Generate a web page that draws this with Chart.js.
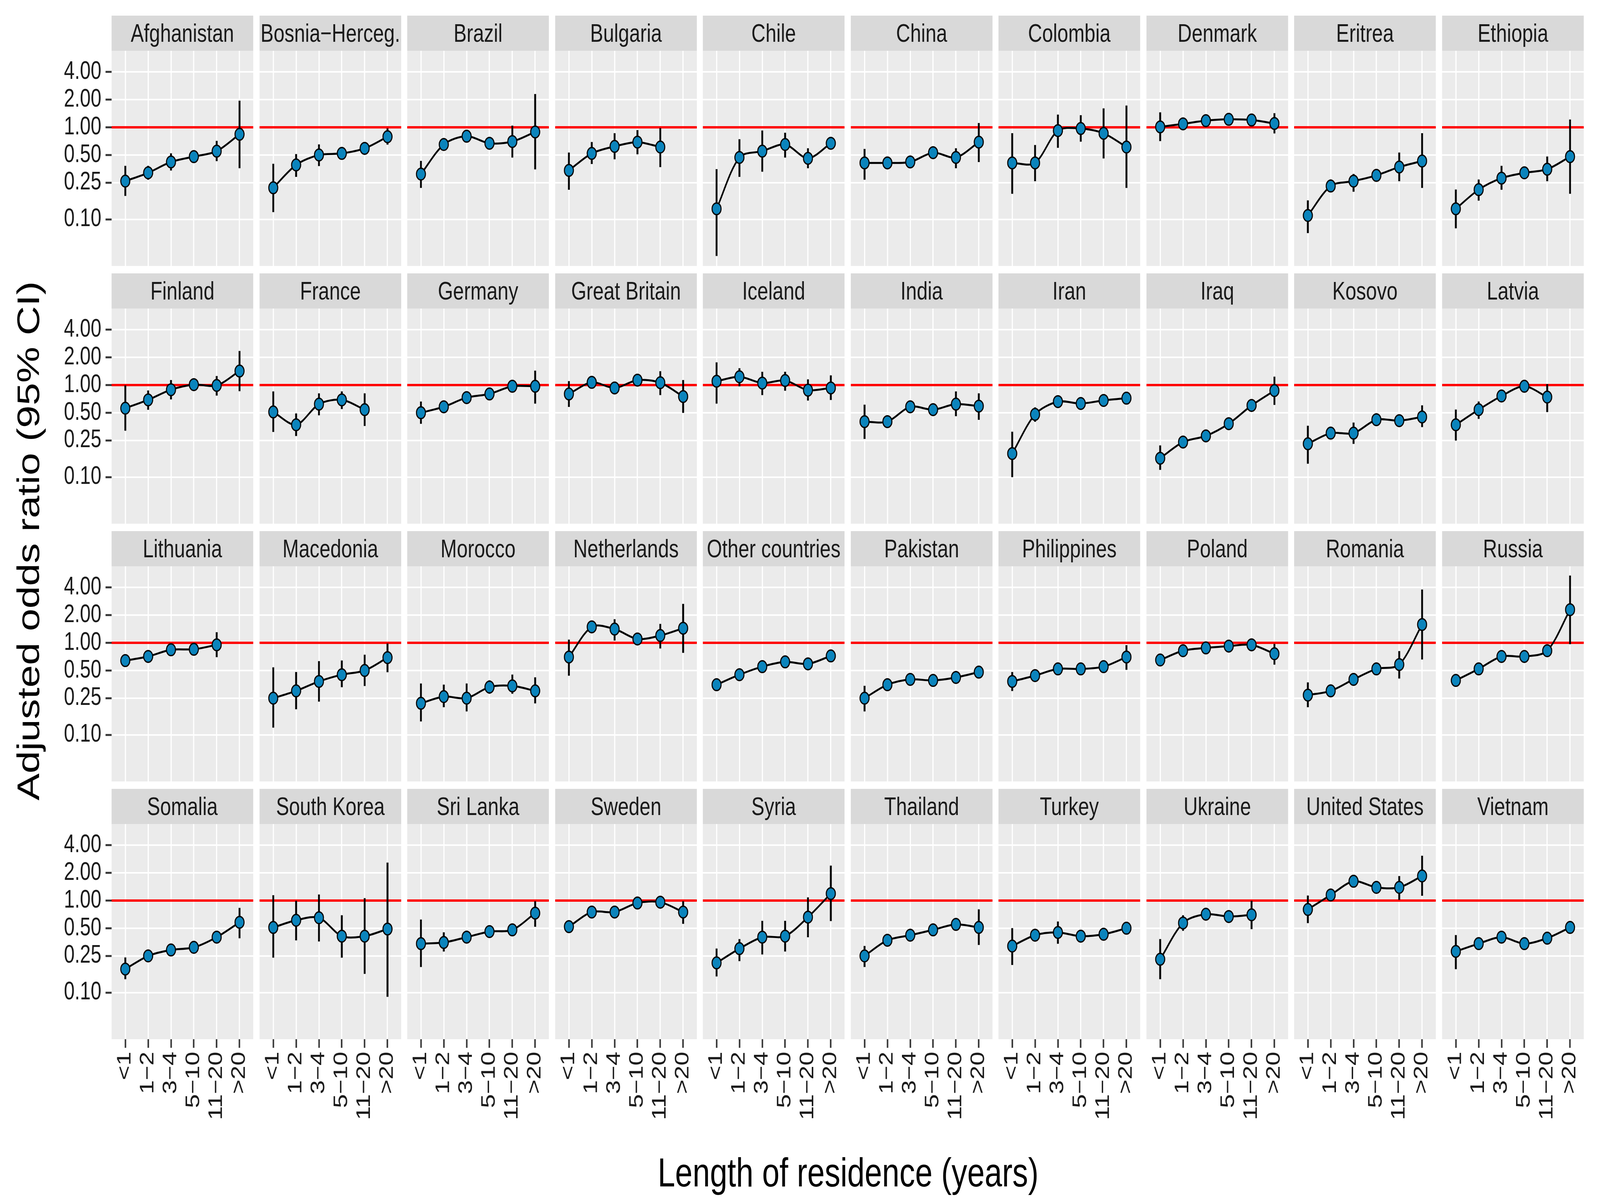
<!DOCTYPE html>
<html>
<head>
<meta charset="utf-8">
<script src="https://cdn.jsdelivr.net/npm/chart.js@4.4.1/dist/chart.umd.min.js"></script>
<style>
html,body{margin:0;padding:0;background:#fff;overflow:hidden;font-family:"Liberation Sans",Arial,Helvetica,sans-serif;}
#page{position:absolute;left:0;top:0;width:5320px;height:3083px;background:#fff;transform-origin:0 0;}
.strip{position:absolute;background:#D9D9D9;color:#1A1A1A;font-size:65px;text-align:center;line-height:90px;height:90px;white-space:nowrap;overflow:visible;}
canvas{position:absolute;}
.title{position:absolute;font-size:104px;line-height:104px;color:#000;white-space:nowrap;text-align:center;}
</style>
</head>
<body>
<div id="page"></div>
<script>
// ---------------- data ----------------
const categories = ["<1", "1\u22122", "3\u22124", "5\u221210", "11\u221220", ">20"];
const yTicks = [0.10, 0.25, 0.50, 1.00, 2.00, 4.00];
const refValue = 1.0;
const xTitle = "Length of residence (years)";
const yTitle = "Adjusted odds ratio (95% CI)";

const countries = [
  "Afghanistan","Bosnia\u2212Herceg.","Brazil","Bulgaria","Chile","China","Colombia","Denmark","Eritrea","Ethiopia",
  "Finland","France","Germany","Great Britain","Iceland","India","Iran","Iraq","Kosovo","Latvia",
  "Lithuania","Macedonia","Morocco","Netherlands","Other countries","Pakistan","Philippines","Poland","Romania","Russia",
  "Somalia","South Korea","Sri Lanka","Sweden","Syria","Thailand","Turkey","Ukraine","United States","Vietnam"
];

const oddsRatio = [
  [0.26,0.32,0.42,0.48,0.55,0.84],
  [0.22,0.39,0.50,0.52,0.59,0.79],
  [0.31,0.65,0.80,0.67,0.70,0.89],
  [0.34,0.52,0.62,0.69,0.61,null],
  [0.13,0.47,0.55,0.65,0.46,0.67],
  [0.41,0.41,0.42,0.53,0.47,0.69],
  [0.41,0.41,0.92,0.97,0.86,0.61],
  [1.01,1.09,1.18,1.22,1.20,1.10],
  [0.11,0.23,0.26,0.30,0.37,0.43],
  [0.13,0.21,0.28,0.32,0.35,0.48],
  [0.56,0.69,0.89,1.01,0.99,1.42],
  [0.51,0.37,0.62,0.69,0.54,null],
  [0.50,0.58,0.73,0.80,0.97,0.97],
  [0.80,1.07,0.93,1.13,1.06,0.75],
  [1.10,1.23,1.05,1.12,0.88,0.93],
  [0.40,0.40,0.58,0.54,0.62,0.59],
  [0.18,0.48,0.66,0.63,0.68,0.72],
  [0.16,0.24,0.28,0.38,0.60,0.87],
  [0.23,0.30,0.30,0.42,0.41,0.45],
  [0.37,0.54,0.76,0.97,0.74,null],
  [0.64,0.71,0.84,0.85,0.95,null],
  [0.25,0.30,0.38,0.45,0.50,0.69],
  [0.22,0.26,0.25,0.33,0.34,0.30],
  [0.70,1.49,1.41,1.10,1.20,1.44],
  [0.35,0.45,0.55,0.62,0.59,0.72],
  [0.25,0.35,0.40,0.39,0.42,0.48],
  [0.38,0.44,0.52,0.52,0.55,0.70],
  [0.65,0.82,0.88,0.92,0.95,0.76],
  [0.27,0.30,0.40,0.52,0.58,1.58],
  [0.39,0.52,0.71,0.71,0.82,2.29],
  [0.18,0.25,0.29,0.31,0.40,0.58],
  [0.51,0.61,0.65,0.41,0.41,0.49],
  [0.34,0.35,0.40,0.46,0.48,0.73],
  [0.52,0.75,0.75,0.94,0.96,0.75],
  [0.21,0.30,0.40,0.41,0.66,1.19],
  [0.25,0.37,0.42,0.48,0.55,0.51],
  [0.32,0.42,0.45,0.41,0.43,0.50],
  [0.23,0.57,0.71,0.67,0.70,null],
  [0.80,1.15,1.62,1.39,1.39,1.85],
  [0.28,0.34,0.40,0.34,0.39,0.51]
];

const ciLow = [
  [0.18,0.27,0.34,0.43,0.43,0.36],
  [0.12,0.29,0.38,0.46,0.53,0.65],
  [0.22,0.56,0.70,0.58,0.47,0.35],
  [0.21,0.40,0.45,0.51,0.37,null],
  [0.04,0.29,0.33,0.47,0.36,0.60],
  [0.27,0.36,0.37,0.47,0.36,0.42],
  [0.19,0.26,0.60,0.70,0.46,0.22],
  [0.71,0.95,1.05,1.10,1.08,0.86],
  [0.071,0.20,0.20,0.26,0.26,0.22],
  [0.08,0.16,0.21,0.28,0.26,0.19],
  [0.32,0.54,0.70,0.90,0.77,0.86],
  [0.31,0.28,0.47,0.55,0.36,null],
  [0.38,0.50,0.65,0.72,0.88,0.63],
  [0.58,0.95,0.83,1.00,0.78,0.50],
  [0.63,0.97,0.78,0.87,0.68,0.69],
  [0.26,0.35,0.50,0.47,0.46,0.42],
  [0.10,0.40,0.58,0.56,0.60,0.62],
  [0.12,0.21,0.25,0.34,0.53,0.61],
  [0.14,0.26,0.23,0.37,0.36,0.35],
  [0.25,0.43,0.66,0.85,0.51,null],
  [0.57,0.63,0.75,0.76,0.70,null],
  [0.12,0.19,0.23,0.33,0.34,0.48],
  [0.14,0.20,0.18,0.28,0.28,0.22],
  [0.44,1.30,1.06,0.95,0.87,0.78],
  [0.33,0.42,0.52,0.59,0.55,0.68],
  [0.18,0.31,0.36,0.35,0.37,0.43],
  [0.30,0.39,0.46,0.46,0.48,0.51],
  [0.57,0.74,0.80,0.82,0.84,0.58],
  [0.20,0.26,0.35,0.45,0.41,0.66],
  [0.34,0.46,0.64,0.64,0.73,0.97],
  [0.14,0.22,0.26,0.28,0.36,0.39],
  [0.24,0.37,0.36,0.24,0.16,0.09],
  [0.19,0.28,0.35,0.41,0.42,0.52],
  [0.46,0.68,0.68,0.85,0.86,0.56],
  [0.15,0.22,0.26,0.28,0.40,0.60],
  [0.19,0.33,0.38,0.43,0.49,0.33],
  [0.20,0.37,0.34,0.37,0.38,0.44],
  [0.14,0.47,0.63,0.60,0.49,null],
  [0.57,1.00,1.45,1.25,1.02,1.13],
  [0.18,0.30,0.35,0.30,0.35,0.46]
];

const ciHigh = [
  [0.38,0.38,0.52,0.54,0.71,1.94],
  [0.40,0.51,0.65,0.58,0.66,0.97],
  [0.43,0.75,0.92,0.78,1.04,2.29],
  [0.53,0.69,0.86,0.93,0.98,null],
  [0.35,0.74,0.92,0.87,0.59,0.76],
  [0.58,0.47,0.48,0.60,0.59,1.11],
  [0.86,0.64,1.37,1.35,1.60,1.72],
  [1.45,1.25,1.33,1.35,1.33,1.42],
  [0.16,0.27,0.31,0.35,0.53,0.86],
  [0.21,0.27,0.38,0.37,0.48,1.21],
  [0.99,0.87,1.13,1.12,1.25,2.34],
  [0.85,0.49,0.81,0.85,0.81,null],
  [0.66,0.67,0.83,0.90,1.08,1.43],
  [1.10,1.20,1.04,1.25,1.41,1.13],
  [1.76,1.52,1.39,1.39,1.15,1.27],
  [0.61,0.46,0.67,0.62,0.85,0.81],
  [0.31,0.57,0.75,0.71,0.77,0.82],
  [0.22,0.27,0.32,0.43,0.68,1.23],
  [0.36,0.35,0.39,0.48,0.47,0.60],
  [0.54,0.66,0.87,1.10,1.02,null],
  [0.72,0.80,0.94,0.95,1.30,null],
  [0.54,0.48,0.63,0.64,0.74,0.98],
  [0.36,0.35,0.36,0.39,0.45,0.42],
  [1.08,1.70,1.80,1.26,1.60,2.64],
  [0.37,0.48,0.58,0.65,0.63,0.76],
  [0.34,0.40,0.45,0.43,0.48,0.53],
  [0.48,0.50,0.58,0.58,0.63,0.94],
  [0.74,0.91,0.97,1.04,1.08,0.97],
  [0.37,0.35,0.46,0.60,0.81,3.78],
  [0.45,0.59,0.79,0.79,0.92,5.36],
  [0.24,0.28,0.33,0.35,0.45,0.83],
  [1.14,0.99,1.16,0.69,1.06,2.58],
  [0.62,0.45,0.47,0.52,0.55,0.98],
  [0.59,0.83,0.84,1.04,1.07,0.98],
  [0.30,0.38,0.60,0.60,1.08,2.39],
  [0.32,0.42,0.47,0.54,0.62,0.80],
  [0.50,0.48,0.59,0.46,0.49,0.57],
  [0.38,0.69,0.80,0.75,0.99,null],
  [1.13,1.32,1.80,1.55,1.84,3.06],
  [0.42,0.38,0.46,0.38,0.44,0.57]
];

// ---------------- layout (in reference pixels, 5320 x 3083) ----------------
const PAGE_W = 5320, PAGE_H = 3083;
const NCOL = 10, NROW = 4;
const panelLeft0 = 371, colStep = 491.5, panelW = 471;
const stripTop0 = 40, rowStep = 660, stripH = 90, plotH = 551;
const yAxisW = 200, xAxisH = 260;
const yMin = 0.0311, yMax = 6.79;
const xMin = -0.6, xMax = 5.6;
const FONT = "'Liberation Sans', Arial, Helvetica, sans-serif";

const page = document.getElementById('page');
// fit the reference-sized page into the actual window
const sx = Math.min(1, (window.innerWidth || PAGE_W) / PAGE_W);
const sy = Math.min(1, (window.innerHeight || PAGE_H) / PAGE_H);
page.style.transform = 'scale(' + sx + ',' + sy + ')';

const panelBg = {
  id: 'panelBg',
  beforeDraw(chart) {
    const {ctx, chartArea: a} = chart;
    ctx.save();
    ctx.fillStyle = '#EBEBEB';
    ctx.fillRect(a.left, a.top, a.right - a.left, a.bottom - a.top);
    ctx.restore();
  }
};
const refLine = {
  id: 'refLine',
  beforeDatasetsDraw(chart) {
    const {ctx, chartArea: a, scales} = chart;
    const py = scales.y.getPixelForValue(refValue);
    ctx.save();
    ctx.strokeStyle = '#FF0000';
    ctx.lineWidth = 6;
    ctx.beginPath();
    ctx.moveTo(a.left, py);
    ctx.lineTo(a.right, py);
    ctx.stroke();
    ctx.restore();
  }
};
const zeroPad = s => { s.paddingTop = 0; s.paddingBottom = 0; s.paddingLeft = 0; s.paddingRight = 0; };

for (let i = 0; i < countries.length; i++) {
  const r = Math.floor(i / NCOL), c = i % NCOL;
  const isLeft = c === 0, isBottom = r === NROW - 1;
  const left = Math.round(panelLeft0 + c * colStep);
  const stripTop = stripTop0 + r * rowStep;

  const strip = document.createElement('div');
  strip.className = 'strip';
  strip.style.left = left + 'px';
  strip.style.top = stripTop + 'px';
  strip.style.width = panelW + 'px';
  strip.textContent = countries[i];
  page.appendChild(strip);

  const cv = document.createElement('canvas');
  const cw = panelW + (isLeft ? yAxisW : 0);
  const ch = plotH + (isBottom ? xAxisH : 0);
  cv.width = cw; cv.height = ch;
  cv.style.width = cw + 'px'; cv.style.height = ch + 'px';
  cv.style.left = (left - (isLeft ? yAxisW : 0)) + 'px';
  cv.style.top = (stripTop + stripH) + 'px';
  page.appendChild(cv);

  const pts = [], bars = [];
  oddsRatio[i].forEach((v, k) => {
    if (v !== null) pts.push({x: k, y: v});
    if (ciLow[i][k] !== null) bars.push({x: k, y: [ciLow[i][k], ciHigh[i][k]]});
  });

  new Chart(cv, {
    type: 'bar',
    data: {
      datasets: [
        {
          type: 'line', data: pts, order: 0,
          borderColor: '#000000', borderWidth: 5, tension: 0.3,
          pointRadius: 15, pointHoverRadius: 15, pointBorderWidth: 3.5,
          pointBackgroundColor: '#0B84BC', pointBorderColor: '#000000'
        },
        {
          type: 'bar', data: bars, order: 1, grouped: false,
          backgroundColor: '#000000', borderWidth: 0, barThickness: 5.5
        }
      ]
    },
    options: {
      responsive: false, animation: false, devicePixelRatio: 1,
      layout: {padding: 0, autoPadding: false},
      events: [],
      plugins: {legend: {display: false}, tooltip: {enabled: false}, title: {display: false}},
      scales: {
        x: {
          type: 'linear', min: xMin, max: xMax, bounds: 'data', offset: false,
          afterBuildTicks: s => { s.ticks = categories.map((_, k) => ({value: k})); },
          afterFit: s => { s.height = isBottom ? xAxisH : 0; zeroPad(s); },
          grid: {color: '#FFFFFF', lineWidth: 4, offset: false, drawTicks: isBottom,
                 tickLength: isBottom ? 22 : 0, tickColor: '#333333', tickWidth: 5},
          border: {display: false},
          ticks: {display: isBottom, autoSkip: false, minRotation: 90, maxRotation: 90, padding: 10,
                  color: '#1A1A1A', font: {family: FONT, size: 64},
                  callback: v => categories[v]}
        },
        y: {
          type: 'logarithmic', min: yMin, max: yMax, bounds: 'data',
          afterBuildTicks: s => { s.ticks = yTicks.map(v => ({value: v})); },
          afterFit: s => { s.width = isLeft ? yAxisW : 0; zeroPad(s); },
          grid: {color: '#FFFFFF', lineWidth: 4, drawTicks: isLeft,
                 tickLength: isLeft ? 20 : 0, tickColor: '#333333', tickWidth: 5},
          border: {display: false},
          ticks: {display: isLeft, padding: 14, color: '#1A1A1A', font: {family: FONT, size: 64},
                  callback: v => Number(v).toFixed(2)}
        }
      }
    },
    plugins: [panelBg, refLine]
  });
}

// axis titles
const xt = document.createElement('div');
xt.className = 'title';
xt.textContent = xTitle;
xt.style.width = '3000px';
xt.style.left = (2820 - 1500) + 'px';
xt.style.top = '2950px';
page.appendChild(xt);

const yt = document.createElement('div');
yt.className = 'title';
yt.textContent = yTitle;
yt.style.width = '2000px';
yt.style.height = '104px';
yt.style.left = (93.5 - 1000) + 'px';
yt.style.top = (1385 - 52) + 'px';
yt.style.transformOrigin = '50% 50%';
yt.style.transform = 'rotate(-90deg)';
page.appendChild(yt);
</script>
</body>
</html>
